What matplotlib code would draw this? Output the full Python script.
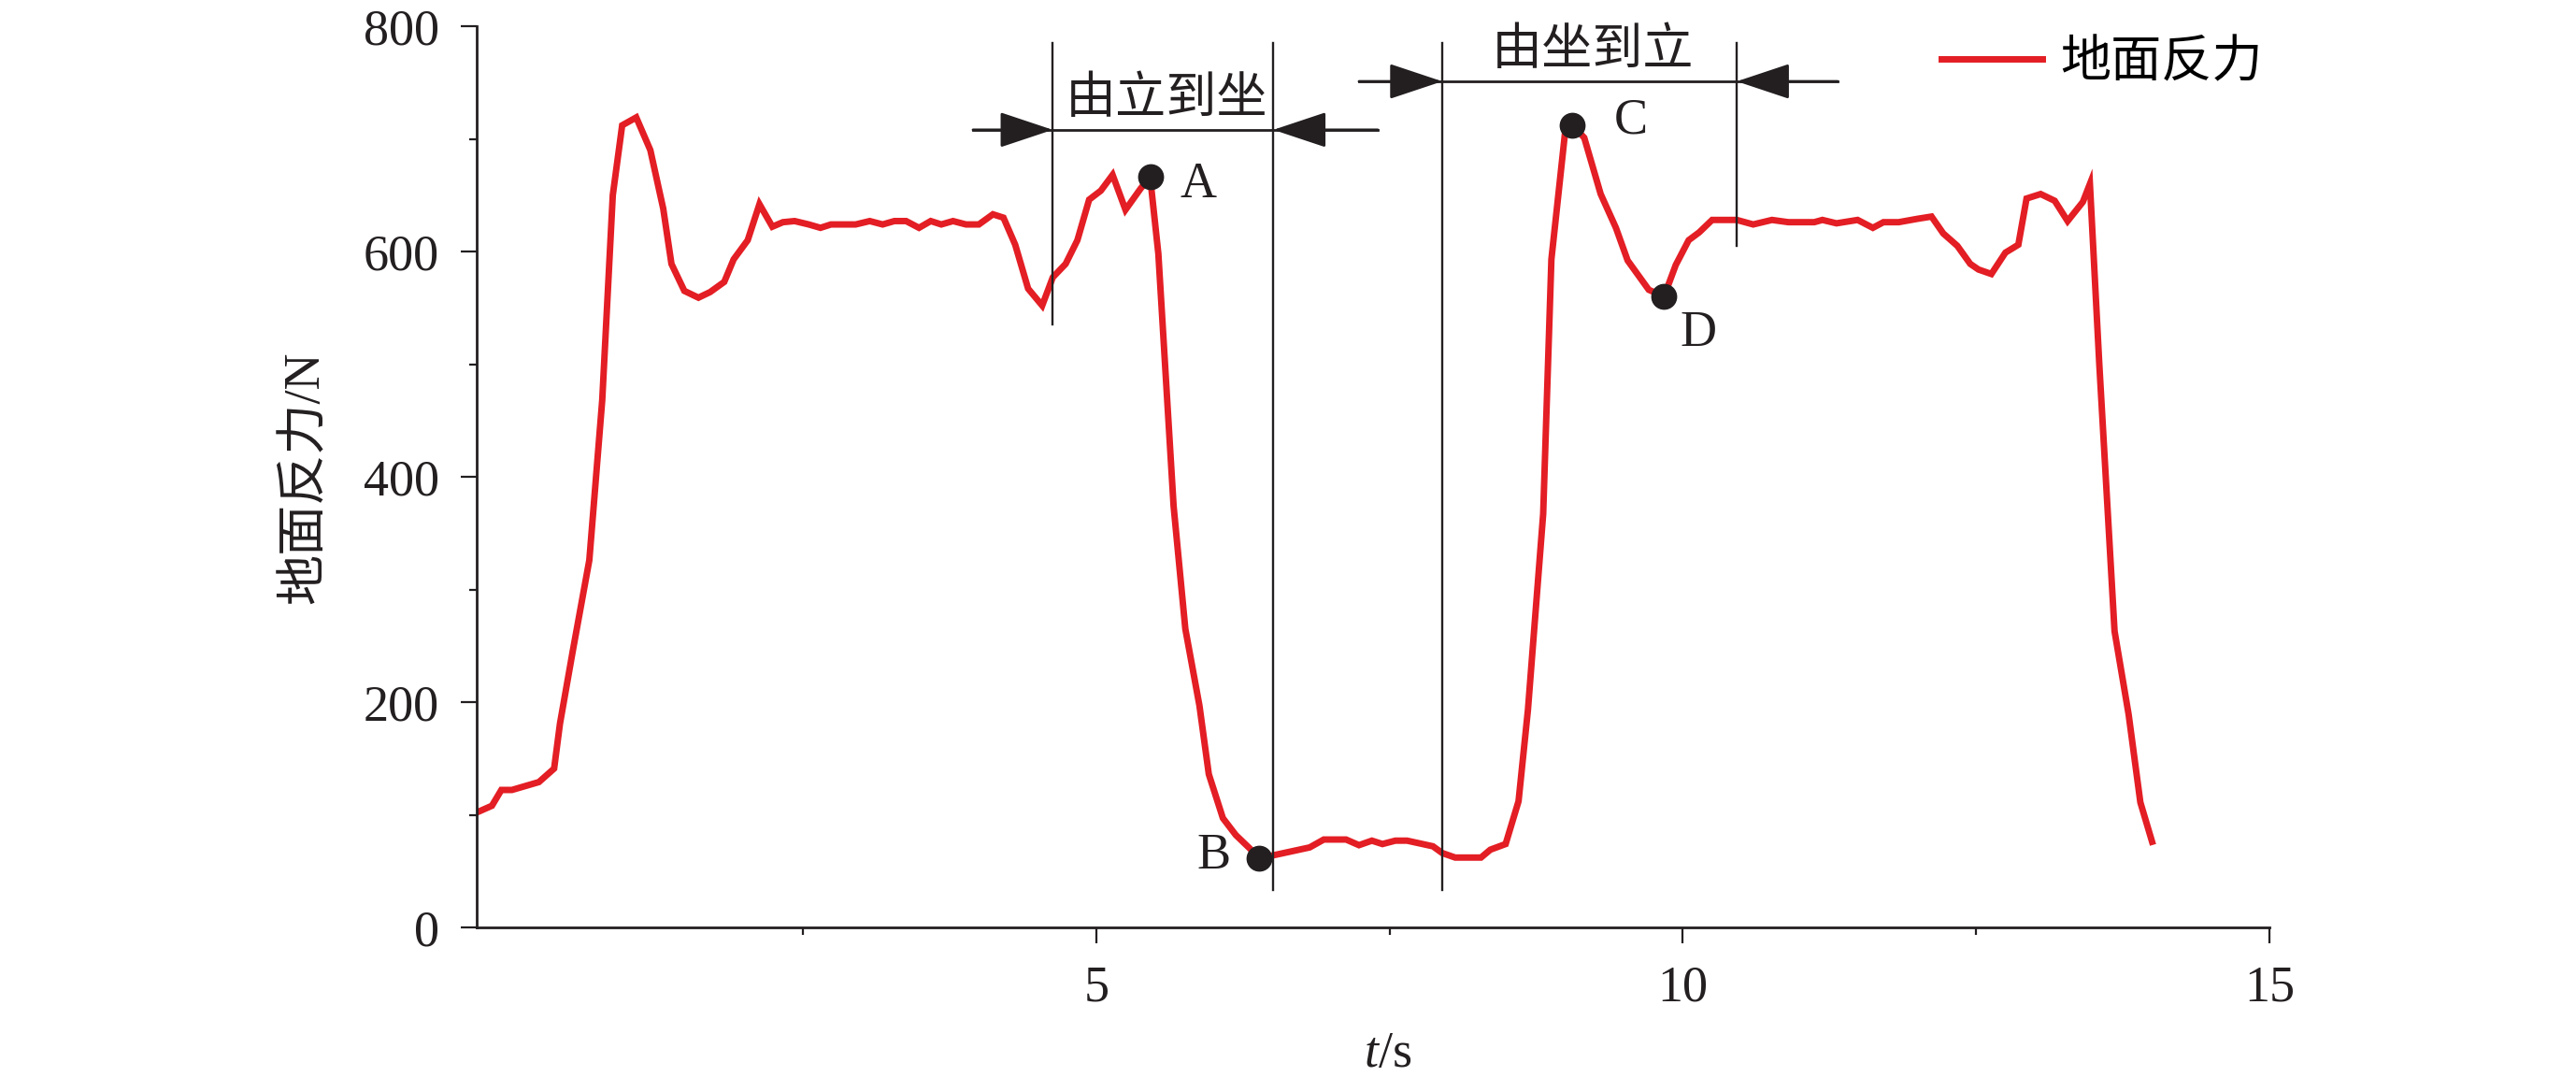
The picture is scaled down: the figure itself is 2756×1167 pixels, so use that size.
import matplotlib
matplotlib.use('Agg')
import matplotlib.pyplot as plt
from matplotlib.ticker import MultipleLocator, FixedLocator

plt.rcParams['font.family'] = ['Liberation Serif', 'Noto Sans CJK SC']
plt.rcParams['mathtext.fontset'] = 'custom'
plt.rcParams['mathtext.rm'] = 'Liberation Serif'
plt.rcParams['mathtext.it'] = 'Liberation Serif:italic'

# ground reaction force curve
t = [-0.28, -0.15, -0.07, 0.02, 0.25, 0.38, 0.43, 0.54, 0.68, 0.79, 0.88, 0.96, 1.08, 1.20, 1.31,
     1.38, 1.49, 1.61, 1.71, 1.83, 1.91, 2.03, 2.13, 2.24, 2.33, 2.43, 2.55, 2.65, 2.74, 2.95,
     3.07, 3.18, 3.28, 3.38, 3.49, 3.59, 3.68, 3.78, 3.89, 4.00, 4.12, 4.21, 4.31, 4.42, 4.54,
     4.63, 4.74, 4.84, 4.94, 5.04, 5.14, 5.25, 5.38, 5.46, 5.53, 5.66, 5.76, 5.88, 5.96, 6.08,
     6.19, 6.31, 6.39, 6.51, 6.82, 6.94, 7.13, 7.24, 7.35, 7.44, 7.55, 7.65, 7.87, 7.95, 8.06,
     8.28, 8.36, 8.49, 8.60, 8.68, 8.81, 8.88, 9.00, 9.06, 9.16, 9.30, 9.43, 9.53, 9.71, 9.84,
     9.94, 10.05, 10.14, 10.25, 10.46, 10.60, 10.76, 10.90, 11.12, 11.19, 11.31, 11.49, 11.62,
     11.71, 11.84, 12.00, 12.12, 12.22, 12.34, 12.45, 12.52, 12.63, 12.75, 12.86, 12.93, 13.05,
     13.17, 13.28, 13.41, 13.47, 13.55, 13.68, 13.80, 13.90, 14.00]
force = [102, 108, 122, 122, 129, 141, 181, 246, 326, 468, 650, 712, 719, 690, 638,
         589, 565, 559, 564, 573, 593, 610, 642, 622, 626, 627, 624, 621, 624, 624,
         627, 624, 627, 627, 621, 627, 624, 627, 624, 624, 633, 630, 606, 567, 552,
         577, 589, 610, 646, 654, 668, 637, 656, 666, 598, 374, 265, 197, 136, 97,
         82, 70, 61, 64, 71, 78, 78, 73, 77, 74, 77, 77, 72, 66, 62,
         62, 69, 74, 112, 193, 367, 593, 709, 712, 701, 651, 621, 592, 566, 560,
         588, 610, 617, 628, 628, 624, 628, 626, 626, 628, 625, 628, 621,
         626, 626, 629, 631, 616, 605, 589, 584, 580, 599, 606, 647, 651,
         645, 627, 644, 660, 500, 263, 189, 111, 76]

# marked points
pt_names = ['A', 'B', 'C', 'D']
pt_t = [5.46, 6.39, 9.06, 9.84]
pt_f = [666, 61, 712, 560]
lab_t = [5.87, 6.00, 9.56, 10.13]
lab_f = [659, 63, 716, 527]

# phase boundaries
v_t = [4.63, 6.51, 7.95, 10.46]
v_lo = [535, 33, 33, 605]
v_hi = [785, 785, 785, 785]

red = '#e31e24'
ink = '#231f20'

fig = plt.figure(figsize=(27.56, 11.67), dpi=100)
ax = fig.add_axes([510 / 2756, 1 - 992 / 1167, 1918 / 2756, 964 / 1167])

ax.plot(t, force, color=red, lw=5, solid_joinstyle='miter', label='地面反力')
ax.plot(pt_t, pt_f, 'o', color=ink, ms=19, zorder=5)
for name, x, y in zip(pt_names, lab_t, lab_f):
    ax.text(x, y, name, fontsize=39, ha='center', va='center', color=ink)

for x, lo, hi in zip(v_t, v_lo, v_hi):
    ax.plot([x, x], [lo, hi], color=ink, lw=1.7)

def span(x0, x1, left, right, y, label, ly):
    ax.plot([x0, x1], [y, y], color=ink, lw=2)
    style = '-|>,head_length=36,head_width=12'
    ax.annotate('', xy=(left, y), xytext=(x0, y),
                arrowprops=dict(arrowstyle=style, color=ink, lw=2, mutation_scale=1,
                                shrinkA=0, shrinkB=0))
    ax.annotate('', xy=(right, y), xytext=(x1, y),
                arrowprops=dict(arrowstyle=style, color=ink, lw=2, mutation_scale=1,
                                shrinkA=0, shrinkB=0))
    ax.text((left + right) / 2 + 0.03, ly, label, fontsize=39, ha='center', va='center', color=ink)

span(3.95, 7.40, 4.63, 6.51, 708, '由立到坐', 734)
span(7.24, 11.32, 7.95, 10.46, 751, '由坐到立', 777)

ax.set_xlim(-0.28, 15)
ax.set_ylim(0, 800)
ax.set_xticks([5, 10, 15])
ax.set_yticks([0, 200, 400, 600, 800])
ax.xaxis.set_minor_locator(FixedLocator([2.5, 7.5, 12.5]))
ax.yaxis.set_minor_locator(MultipleLocator(100))
for s in ['top', 'right']:
    ax.spines[s].set_visible(False)
for s in ['left', 'bottom']:
    ax.spines[s].set_linewidth(2)
    ax.spines[s].set_color(ink)
ax.tick_params(which='major', length=12, width=1.6, pad=17, labelsize=39, colors=ink)
ax.tick_params(which='minor', length=6, width=1.6, colors=ink)

fig.text(327 / 2756, 1 - 511 / 1167, '地面反力/N', rotation=90, fontsize=39,
         ha='center', va='center', color=ink)
fig.text(1485 / 2756, 1 - 1128 / 1167, '$t$/s', fontsize=39, ha='center', va='center', color=ink)

ax.legend(loc='center left', bbox_to_anchor=(2077 / 2756, 1 - 69 / 1167),
          bbox_transform=fig.transFigure, frameon=False, fontsize=39,
          handlelength=2.0, handletextpad=0.35, borderpad=0, borderaxespad=0)

fig.savefig('out.png', dpi=100)
